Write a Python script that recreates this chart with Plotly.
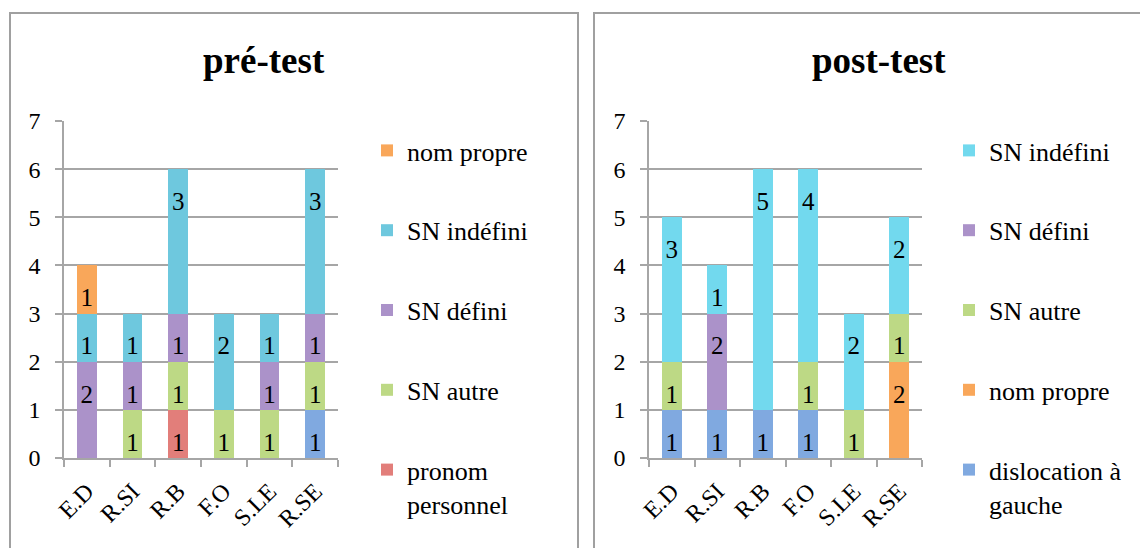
import plotly.graph_objects as go

categories = ["E.D", "R.SI", "R.B", "F.O", "S.LE", "R.SE"]

# pré-test (bottom to top)
pre_dislocation = [0, 0, 0, 0, 0, 1]
pre_pronom = [0, 0, 1, 0, 0, 0]
pre_sn_autre = [0, 1, 1, 1, 1, 1]
pre_sn_defini = [2, 1, 1, 0, 1, 1]
pre_sn_indefini = [1, 1, 3, 2, 1, 3]
pre_nom_propre = [1, 0, 0, 0, 0, 0]

# post-test (bottom to top)
post_dislocation = [1, 1, 1, 1, 0, 0]
post_nom_propre = [0, 0, 0, 0, 0, 2]
post_sn_autre = [1, 0, 0, 1, 1, 1]
post_sn_defini = [0, 2, 0, 0, 0, 0]
post_sn_indefini = [3, 1, 5, 4, 2, 2]

y_ticks = [0, 1, 2, 3, 4, 5, 6, 7]

FONT = "Liberation Serif"
C_BLUE = "#80A9E0"
C_RED = "#E27E7A"
C_GREEN = "#BDD985"
C_PURPLE = "#AB92C9"
C_CYAN_L = "#6EC8DE"
C_CYAN_R = "#72D9EE"
C_ORANGE = "#F9A75A"

LABEL_DROP = 0.72  # data labels sit a bit below each segment's top

fig = go.Figure()
_rank = [1000]


def add(vals, name, color, xa, ya, leg, show=True):
    _rank[0] -= 1
    fig.add_trace(go.Bar(
        x=categories, y=vals, name=name,
        marker=dict(color=color, line=dict(width=0)),
        xaxis=xa, yaxis=ya, legend=leg, legendgroup=leg + name,
        legendrank=_rank[0],
        showlegend=show, hoverinfo="skip",
    ))


def add_labels(series, xa, ya):
    xs, ys, ts = [], [], []
    base = [0] * len(categories)
    for vals in series:
        for i, v in enumerate(vals):
            if v:
                xs.append(categories[i])
                ys.append(base[i] + v - LABEL_DROP)
                ts.append(str(v))
            base[i] += v
    fig.add_trace(go.Scatter(
        x=xs, y=ys, text=ts, mode="text", textposition="middle center",
        textfont=dict(family=FONT, size=25, color="black"),
        xaxis=xa, yaxis=ya, showlegend=False, hoverinfo="skip", cliponaxis=False,
    ))


add(pre_dislocation, "dislocation à gauche", C_BLUE, "x", "y", "legend", show=False)
add(pre_pronom, "pronom<br>personnel", C_RED, "x", "y", "legend")
add(pre_sn_autre, "SN autre", C_GREEN, "x", "y", "legend")
add(pre_sn_defini, "SN défini", C_PURPLE, "x", "y", "legend")
add(pre_sn_indefini, "SN indéfini", C_CYAN_L, "x", "y", "legend")
add(pre_nom_propre, "nom propre", C_ORANGE, "x", "y", "legend")

add(post_dislocation, "dislocation à<br>gauche", C_BLUE, "x2", "y2", "legend2")
add(post_nom_propre, "nom propre", C_ORANGE, "x2", "y2", "legend2")
add(post_sn_autre, "SN autre", C_GREEN, "x2", "y2", "legend2")
add(post_sn_defini, "SN défini", C_PURPLE, "x2", "y2", "legend2")
add(post_sn_indefini, "SN indéfini", C_CYAN_R, "x2", "y2", "legend2")

add_labels([pre_dislocation, pre_pronom, pre_sn_autre, pre_sn_defini,
            pre_sn_indefini, pre_nom_propre], "x", "y")
add_labels([post_dislocation, post_nom_propre, post_sn_autre, post_sn_defini,
            post_sn_indefini], "x2", "y2")

# page body has an 8px margin, so the figure is drawn 8px in from the window edge
W, H = 1140, 540
GRID = "#A6A6A6"

xcommon = dict(type="category", showgrid=False, showline=True, linecolor=GRID, linewidth=1.5,
               ticks="outside", tickson="boundaries", ticklen=7, tickcolor=GRID, tickwidth=1.5,
               tickangle=-45, ticklabelstandoff=8, automargin=False,
               tickfont=dict(family=FONT, size=24, color="black"), fixedrange=True)
ycommon = dict(range=[0, 7], tickvals=y_ticks, showgrid=True, gridcolor=GRID, gridwidth=1.5,
               showline=True, linecolor=GRID, linewidth=1.5, zeroline=False,
               ticks="outside", ticklen=7, tickcolor=GRID, tickwidth=1.5,
               ticklabelstandoff=10, automargin=False,
               tickfont=dict(family=FONT, size=24, color="black"), fixedrange=True)

legcommon = dict(traceorder="grouped", tracegroupgap=43, valign="top",
                 font=dict(family=FONT, size=26, color="black"), bgcolor="rgba(0,0,0,0)",
                 xanchor="left", yanchor="top", itemclick=False)

fig.update_layout(
    width=W, height=H, margin=dict(l=0, r=0, t=0, b=0, autoexpand=False),
    paper_bgcolor="white", plot_bgcolor="white",
    barmode="stack", bargap=0.57,
    showlegend=True,
    font=dict(family=FONT, color="black"),
    xaxis=dict(domain=[56 / W, 330 / W], anchor="y", **xcommon),
    yaxis=dict(domain=[90 / H, 427 / H], anchor="x", **ycommon),
    xaxis2=dict(domain=[641 / W, 914 / W], anchor="y2", **xcommon),
    yaxis2=dict(domain=[90 / H, 427 / H], anchor="x2", **ycommon),
    legend=dict(x=359 / W, y=(H - 119) / H, **legcommon),
    legend2=dict(x=941 / W, y=(H - 119) / H, **legcommon),
    shapes=[
        dict(type="rect", xref="paper", yref="paper", x0=2 / W, x1=570 / W,
             y0=-0.2, y1=(H - 5) / H, line=dict(color="#A0A0A0", width=2), layer="below"),
        dict(type="rect", xref="paper", yref="paper", x0=586 / W, x1=1.2,
             y0=-0.2, y1=(H - 5) / H, line=dict(color="#A0A0A0", width=2), layer="below"),
    ],
    annotations=[
        dict(text="<b>pré-test</b>", x=256 / W, y=(H - 52) / H, xref="paper", yref="paper",
             xanchor="center", yanchor="middle",
             showarrow=False, font=dict(family=FONT, size=37, color="black")),
        dict(text="<b>post-test</b>", x=871 / W, y=(H - 52) / H, xref="paper", yref="paper",
             xanchor="center", yanchor="middle",
             showarrow=False, font=dict(family=FONT, size=37, color="black")),
    ],
)

fig.write_html("out.html")
